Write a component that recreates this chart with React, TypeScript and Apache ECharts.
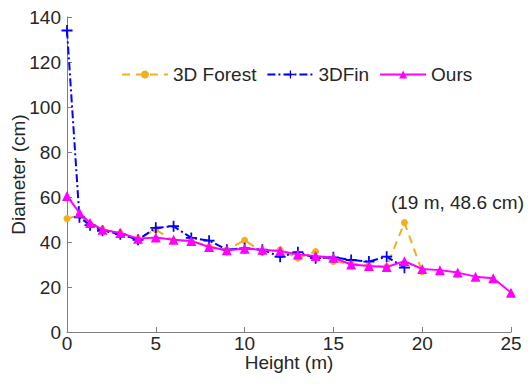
import React, { useEffect, useRef } from "react";
import * as echarts from "echarts";

const heightsOurs = [0, 0.7, 1.3, 2, 3, 4, 5, 6, 7, 8, 9, 10, 11, 12, 13, 14, 15, 16, 17, 18, 19, 20, 21, 22, 23, 24, 25];
const oursValues = [60.5, 53, 48.5, 45.5, 44, 41.5, 42, 41, 40.5, 37.8, 36.3, 37, 36.6, 36, 34.5, 33.8, 33, 30, 29.3, 28.9, 31.5, 28, 27.5, 26.4, 24.6, 23.9, 17.5];

const heightsFin = [0, 0.7, 1.3, 2, 3, 4, 5, 6, 7, 8, 9, 10, 11, 12, 13, 14, 15, 16, 17, 18, 19];
const finValues = [134, 51, 47.5, 45, 43.5, 41, 46.3, 47, 41.8, 40.6, 36.6, 37.2, 36.6, 33.4, 35.5, 32.8, 33.2, 32, 31.3, 33.5, 28.6];

const heightsForest = [0, 0.7, 1.3, 2, 3, 4, 5, 6, 7, 8, 9, 10, 11, 12, 13, 14, 15, 16, 17, 18, 19, 20];
const forestValues = [50.4, 52, 48, 45.5, 44, 41.5, 45.5, 40.5, 40.5, 38, 36.5, 40.8, 35.5, 36.5, 32.8, 35.8, 31.3, 30.5, 29.5, 29, 48.6, 26.8];

const annotationText = "(19 m, 48.6 cm)";
const peakIndex = 20;

const plusPath = "path://M4.2,0 L5.8,0 L5.8,4.2 L10,4.2 L10,5.8 L5.8,5.8 L5.8,10 L4.2,10 L4.2,5.8 L0,5.8 L0,4.2 L4.2,4.2 Z";

export default function App() {
  const ref = useRef<HTMLDivElement>(null);
  useEffect(() => {
    if (!ref.current) return;
    const chart = echarts.init(ref.current, null, { renderer: "svg" });
    const font = "'Liberation Sans', Arial, sans-serif";
    const textColor = "#262626";
    const axisColor = "#7f7f7f";
    const fs = 19;

    const forestData = heightsForest.map((h, i) => {
      if (i === peakIndex) {
        return {
          value: [h, forestValues[i]],
          label: {
            show: true,
            formatter: annotationText,
            position: "top",
            offset: [53, -2],
            fontSize: fs,
            fontFamily: font,
            color: textColor,
          },
        };
      }
      return [h, forestValues[i]];
    });

    chart.setOption({
      animation: false,
      backgroundColor: "#ffffff",
      textStyle: { fontFamily: font },
      grid: { left: 67, right: 17, top: 17, bottom: 52, containLabel: false, outerBoundsMode: "none" },
      legend: {
        top: 60,
        left: 116,
        itemWidth: 46,
        itemHeight: 10,
        itemGap: 10,
        textStyle: { fontSize: fs, color: textColor, fontFamily: font },
        data: ["3D Forest", "3DFin", "Ours"],
      },
      xAxis: {
        type: "value",
        min: 0,
        max: 25,
        interval: 5,
        name: "Height (m)",
        nameLocation: "middle",
        nameGap: 21,
        nameMoveOverlap: false,
        nameTextStyle: { fontSize: fs, color: textColor, fontFamily: font },
        axisLine: { show: true, lineStyle: { color: axisColor, width: 1 } },
        axisTick: { show: true, inside: true, length: 5, lineStyle: { color: axisColor } },
        axisLabel: { fontSize: fs, color: textColor, fontFamily: font, margin: 2 },
        splitLine: { show: false },
      },
      yAxis: {
        type: "value",
        min: 0,
        max: 140,
        interval: 20,
        name: "Diameter (cm)",
        nameLocation: "middle",
        nameGap: 39,
        nameMoveOverlap: false,
        nameTextStyle: { fontSize: fs, color: textColor, fontFamily: font },
        axisLine: { show: true, lineStyle: { color: axisColor, width: 1 } },
        axisTick: { show: true, inside: true, length: 5, lineStyle: { color: axisColor } },
        axisLabel: { fontSize: fs, color: textColor, fontFamily: font, margin: 6 },
        splitLine: { show: false },
      },
      series: [
        {
          name: "3D Forest",
          type: "line",
          data: forestData,
          symbol: "circle",
          symbolSize: 7,
          itemStyle: { color: "#EDB120" },
          lineStyle: { color: "#EDB120", width: 2, type: [8, 6] },
          z: 2,
        },
        {
          name: "3DFin",
          type: "line",
          data: heightsFin.map((h, i) => [h, finValues[i]]),
          symbol: plusPath,
          symbolSize: 11,
          itemStyle: { color: "#0000FF" },
          lineStyle: { color: "#0000FF", width: 2, type: [8, 3, 2, 3] },
          z: 3,
        },
        {
          name: "Ours",
          type: "line",
          data: heightsOurs.map((h, i) => [h, oursValues[i]]),
          symbol: "triangle",
          symbolSize: 10,
          itemStyle: { color: "#FF00FF" },
          lineStyle: { color: "#FF00FF", width: 2 },
          z: 4,
        },
      ],
    });
    return () => chart.dispose();
  }, []);
  return <div ref={ref} style={{ width: 528, height: 384, position: "absolute", left: 0, top: 0 }} />;
}
